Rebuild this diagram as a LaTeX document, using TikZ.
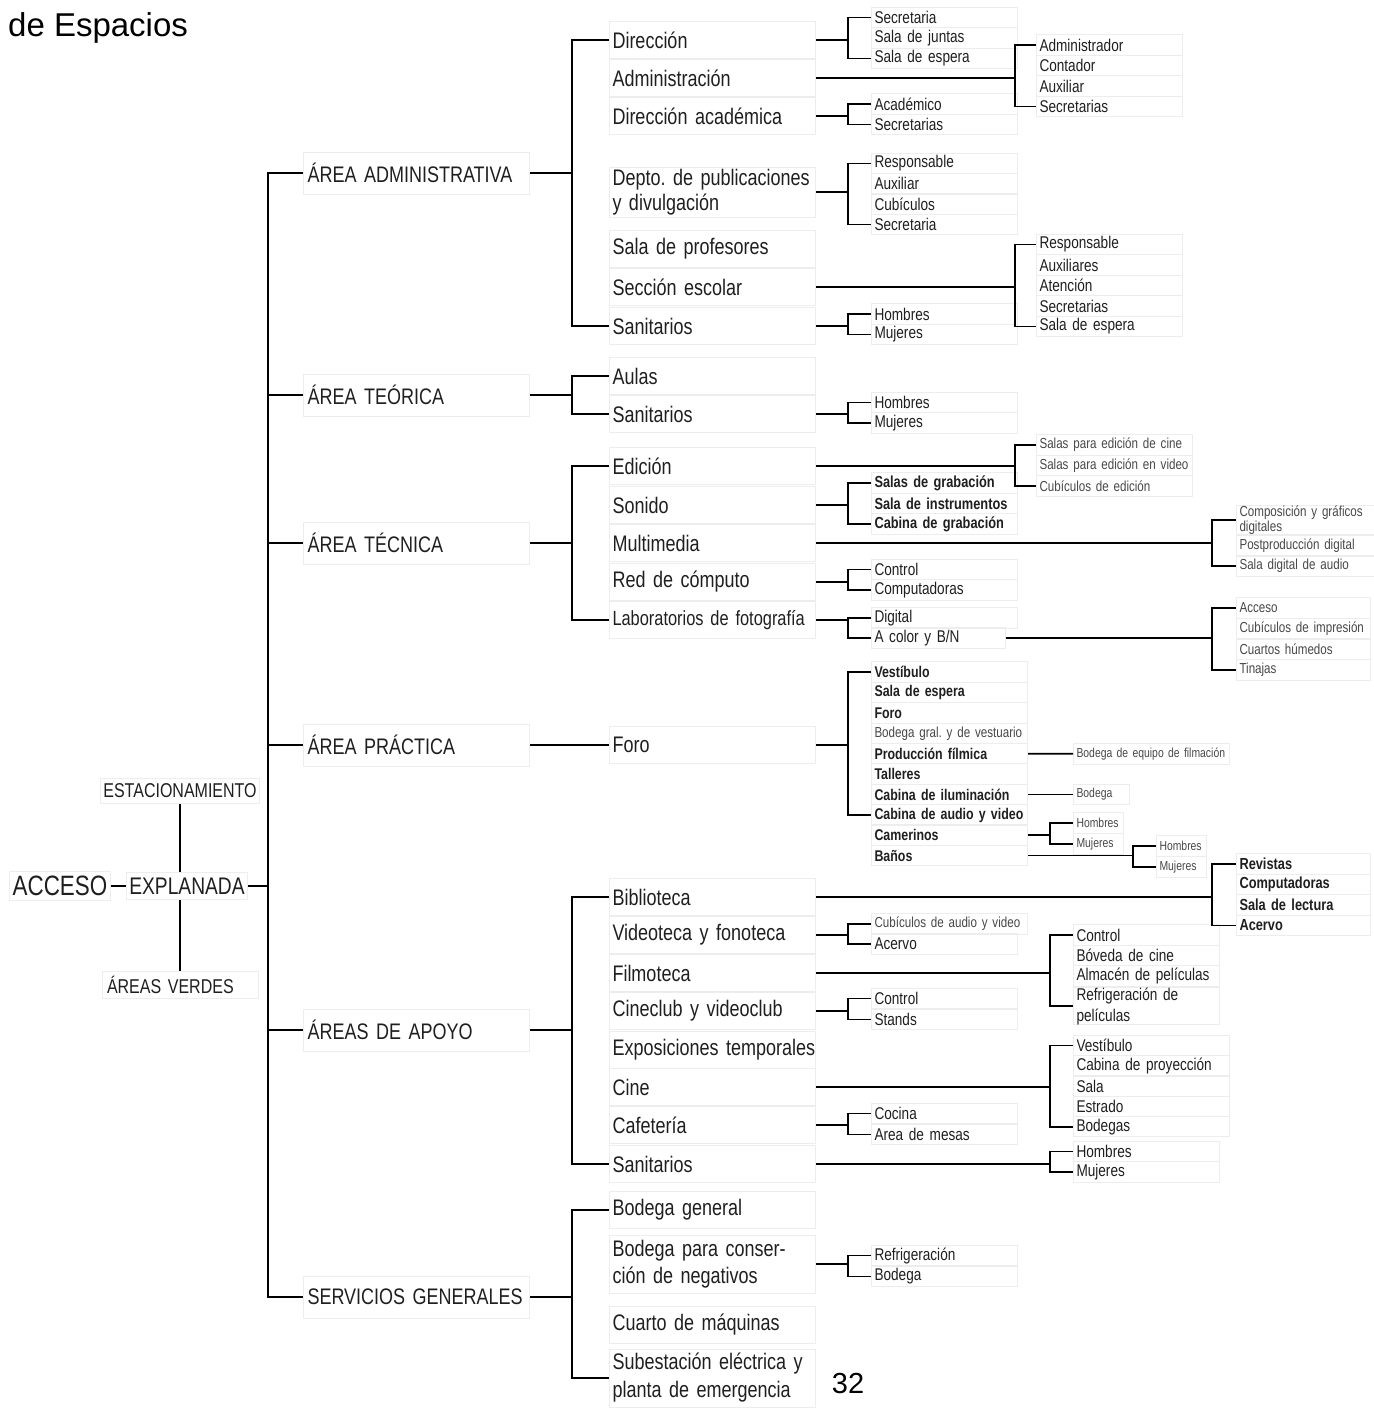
\documentclass[tikz,border=0pt]{standalone}
\usepackage{fontspec}
\setmainfont[FakeStretch=0.8]{Liberation Sans}
\newfontfamily\widefont{Liberation Sans}
\usetikzlibrary{positioning}
\frenchspacing

% bracket from a parent to the first and last entry of a list
\newcommand{\joinlist}[4]{%
  \draw[link] (#1.east) -- (#1.east -| #2);
  \draw[link] (#3.west) -- (#3.west -| #2) -- (#4.west -| #2) -- (#4.west);
}

\tikzset{
  link/.style={line width=1.8pt, black},
  frame/.style={draw=black!7, line width=1pt, text=black!88},
  top/.style={frame, inner xsep=3pt, inner ysep=5pt},
  area/.style={frame, anchor=west, inner xsep=4pt, text width=218pt, minimum height=42pt,
    align=left, font=\fontsize{22.5}{26}\selectfont},
  room/.style={frame, anchor=west, inner xsep=3pt, inner ysep=2pt, text width=200pt,
    minimum height=37pt, align=left, font=\fontsize{22.5}{25}\selectfont},
  item/.style={frame, anchor=west, inner xsep=3pt, inner ysep=0pt, text width=140pt,
    minimum height=20.5pt, align=left, font=\fontsize{17}{19}\selectfont},
  itemb/.style={item, font=\fontsize{16}{19}\selectfont\bfseries},
  iteml/.style={item, text width=150pt, text=black!72, font=\fontsize{14.5}{16}\selectfont},
  itemxs/.style={item, text width=150pt, text=black!72, font=\fontsize{13}{15}\selectfont},
}

\begin{document}
\begin{tikzpicture}[x=1pt, y=-1pt]
\useasboundingbox (0,0) rectangle (1373,1413);

\node[anchor=west, inner sep=0pt, font=\widefont\fontsize{33}{36}\selectfont] (ttl) at (8,28) {de Espacios};
\node[font=\widefont\fontsize{29}{32}\selectfont] (pg) at (848,1383) {32};

% junction columns
\coordinate (xa) at (268,0);
\coordinate (xb) at (572,0);
\coordinate (xc) at (848,0);
\coordinate (xd) at (1015,0);
\coordinate (xe) at (1050,0);
\coordinate (xf) at (1133,0);
\coordinate (xg) at (1212,0);

% left part
\node[top, font=\fontsize{28}{30}\selectfont] (acc) at (60,886) {ACCESO};
\node[top, font=\fontsize{24}{26}\selectfont] (expl) at (187,886) {EXPLANADA};
\node[top, font=\fontsize{20}{22}\selectfont] (esta) at (180,791) {ESTACIONAMIENTO};
\node[top, text width=146pt, align=left, inner xsep=5pt, font=\fontsize{20}{22}\selectfont] (verd) at (180,985) {ÁREAS VERDES};
\draw[link] (acc) -- (expl);
\draw[link] (esta.south) -- (esta.south |- expl.north);
\draw[link] (verd.north) -- (verd.north |- expl.south);

% areas
\node[area] (aadm) at (303,173) {ÁREA ADMINISTRATIVA};
\node[area] (ateo) at (303,395) {ÁREA TEÓRICA};
\node[area] (atec) at (303,543) {ÁREA TÉCNICA};
\node[area] (aprac) at (303,745) {ÁREA PRÁCTICA};
\node[area] (aapo) at (303,1030) {ÁREAS DE APOYO};
\node[area] (aserv) at (303,1297) {SERVICIOS GENERALES};
\joinlist{expl}{xa}{aadm}{aserv}
\foreach \a in {ateo,atec,aprac,aapo}
  \draw[link] (\a.west) -- (\a.west -| xa);

% spaces
\node[room] (dir) at (609,40) {Dirección};
\node[room] (adm) at (609,78) {Administración};
\node[room] (diracad) at (609,116) {Dirección académica};
\node[room, minimum height=50pt] (depto) at (609,192) {\mbox{Depto. de publicaciones}\\y divulgación};
\node[room] (salaprof) at (609,249) {Sala de profesores};
\node[room] (secesc) at (609,287) {Sección escolar};
\node[room] (sanA) at (609,326) {Sanitarios};
\node[room] (aulas) at (609,376) {Aulas};
\node[room] (sanT) at (609,414) {Sanitarios};
\node[room] (edic) at (609,466) {Edición};
\node[room] (sonido) at (609,505) {Sonido};
\node[room] (multi) at (609,543) {Multimedia};
\node[room] (red) at (609,582) {Red de cómputo};
\node[room, font=\fontsize{20.5}{24}\selectfont] (labfoto) at (609,620) {\mbox{Laboratorios de fotografía}};
\node[room] (foro) at (609,745) {Foro};
\node[room] (biblio) at (609,897) {Biblioteca};
\node[room] (video) at (609,935) {Videoteca y fonoteca};
\node[room] (filmo) at (609,973) {Filmoteca};
\node[room] (cineclub) at (609,1011) {Cineclub y videoclub};
\node[room] (expo) at (609,1050) {\mbox{Exposiciones temporales}};
\node[room] (cine) at (609,1087) {Cine};
\node[room] (cafe) at (609,1125) {Cafetería};
\node[room] (sanP) at (609,1164) {Sanitarios};
\node[room] (bodgen) at (609,1210) {Bodega general};
\node[room, minimum height=58pt, font=\fontsize{22.5}{27.5}\selectfont] (bodneg) at (609,1264) {Bodega para conser-\\ción de negativos};
\node[room] (cuarto) at (609,1325) {Cuarto de máquinas};
\node[room, minimum height=58pt, font=\fontsize{22.5}{28}\selectfont] (subest) at (609,1378) {\mbox{Subestación eléctrica y}\\planta de emergencia};

\joinlist{aadm}{xb}{dir}{sanA}
\joinlist{ateo}{xb}{aulas}{sanT}
\joinlist{atec}{xb}{edic}{labfoto}
\draw[link] (aprac) -- (foro);
\joinlist{aapo}{xb}{biblio}{sanP}
\joinlist{aserv}{xb}{bodgen}{subest}

% administrative lists
\foreach \t [count=\i] in {Secretaria,Sala de juntas,Sala de espera}
  \node[item] (d\i) at (871,{17.5+20.5*(\i-1)}) {\t};
\foreach \t [count=\i] in {Administrador,Contador,Auxiliar,Secretarias}
  \node[item] (a\i) at (1036,{45+20.5*(\i-1)}) {\t};
\foreach \t [count=\i] in {Académico,Secretarias}
  \node[item] (da\i) at (871,{104+20.5*(\i-1)}) {\t};
\foreach \t [count=\i] in {Responsable,Auxiliar,Cubículos,Secretaria}
  \node[item] (dp\i) at (871,{163.5+20.3*(\i-1)}) {\t};
\foreach \t [count=\i] in {Responsable,Auxiliares,Atención,Secretarias,Sala de espera}
  \node[item] (se\i) at (1036,{244.5+20.5*(\i-1)}) {\t};
\foreach \t [count=\i] in {Hombres,Mujeres}
  \node[item] (sa\i) at (871,{314+20.5*(\i-1)}) {\t};
\joinlist{dir}{xc}{d1}{d3}
\joinlist{adm}{xd}{a1}{a4}
\joinlist{diracad}{xc}{da1}{da2}
\joinlist{depto}{xc}{dp1}{dp4}
\joinlist{secesc}{xd}{se1}{se5}
\joinlist{sanA}{xc}{sa1}{sa2}

% theory
\foreach \t [count=\i] in {Hombres,Mujeres}
  \node[item] (st\i) at (871,{402.5+20.5*(\i-1)}) {\t};
\joinlist{sanT}{xc}{st1}{st2}

% technical
\foreach \t [count=\i] in {Salas~para~edición~de~cine,Salas~para~edición~en~video,Cubículos~de~edición}
  \node[iteml] (ed\i) at (1036,{445+20.5*(\i-1)}) {\t};
\foreach \t [count=\i] in {Salas de grabación,Sala~de~instrumentos,Cabina de grabación}
  \node[itemb] (so\i) at (871,{483+20.5*(\i-1)}) {\t};
\node[iteml, font=\fontsize{14.5}{12.5}\selectfont] (mm1) at (1236,520) {Composición~y~gráficos\\digitales};
\node[iteml] (mm2) at (1236,546) {Postproducción~digital};
\node[iteml] (mm3) at (1236,566) {Sala~digital~de~audio};
\foreach \t [count=\i] in {Control,Computadoras}
  \node[item] (rc\i) at (871,{569.5+20.5*(\i-1)}) {\t};
\node[item] (lf1) at (871,618) {Digital};
\node[item, text width=128pt] (lf2) at (871,638) {A color y B/N};
\foreach \t [count=\i] in {Acceso,Cubículos~de~impresión,Cuartos~húmedos,Tinajas}
  \node[iteml, text width=128pt] (lb\i) at (1236,{608+20.7*(\i-1)}) {\t};
\joinlist{edic}{xd}{ed1}{ed3}
\joinlist{sonido}{xc}{so1}{so3}
\joinlist{multi}{xg}{mm1}{mm3}
\joinlist{red}{xc}{rc1}{rc2}
\joinlist{labfoto}{xc}{lf1}{lf2}
\joinlist{lf2}{xg}{lb1}{lb4}

% practice
\tikzset{foroitem/.style={itemb, text width=150pt, font=\fontsize{15.5}{19}\selectfont\bfseries}}
\node[foroitem] (fo1) at (871,672) {Vestíbulo};
\node[foroitem] (fo2) at (871,692.5) {Sala de espera};
\node[foroitem] (fo3) at (871,713) {Foro};
\node[iteml, text width=150pt] (fo4) at (871,733.5) {Bodega~gral.~y~de~vestuario};
\node[foroitem] (fo5) at (871,753.5) {Producción fílmica};
\node[foroitem] (fo6) at (871,774) {Talleres};
\node[foroitem] (fo7) at (871,794.5) {Cabina~de~iluminación};
\node[foroitem] (fo8) at (871,815) {Cabina~de~audio~y~video};
\node[foroitem] (fo9) at (871,835) {Camerinos};
\node[foroitem] (fo10) at (871,855.5) {Baños};
\node[itemxs] (pf1) at (1073,754) {Bodega~de~equipo~de~filmación};
\node[itemxs, text width=50pt] (ci1) at (1073,794.5) {Bodega};
\foreach \t [count=\i] in {Hombres,Mujeres}
  \node[itemxs, text width=44pt] (cm\i) at (1073,{823+21*(\i-1)}) {\t};
\foreach \t [count=\i] in {Hombres,Mujeres}
  \node[itemxs, text width=44pt] (bn\i) at (1156,{846+21*(\i-1)}) {\t};
\joinlist{foro}{xc}{fo1}{fo8}
\draw[link] (fo5) -- (pf1);
\draw[link] (fo7) -- (ci1);
\joinlist{fo9}{xe}{cm1}{cm2}
\joinlist{fo10}{xf}{bn1}{bn2}

% support
\foreach \t [count=\i] in {Revistas,Computadoras,Sala de lectura,Acervo}
  \node[itemb, text width=128pt] (bi\i) at (1236,{864+20.5*(\i-1)}) {\t};
\node[iteml] (vf1) at (871,924) {Cubículos~de~audio~y~video};
\node[item] (vf2) at (871,944) {Acervo};
\foreach \t [count=\i] in {Control,Bóveda de cine,Almacén~de~películas}
  \node[item] (fm\i) at (1073,{935+20.5*(\i-1)}) {\t};
\node[item, font=\fontsize{17}{21}\selectfont] (fm4) at (1073,1006) {Refrigeración de\\películas};
\foreach \t [count=\i] in {Control,Stands}
  \node[item] (cc\i) at (871,{998.5+21*(\i-1)}) {\t};
\foreach \t [count=\i] in {Vestíbulo,Cabina~de~proyección,Sala,Estrado,Bodegas}
  \node[item, text width=150pt] (cn\i) at (1073,{1045.5+20.3*(\i-1)}) {\t};
\foreach \t [count=\i] in {Cocina,Area de mesas}
  \node[item] (cf\i) at (871,{1113.5+21*(\i-1)}) {\t};
\foreach \t [count=\i] in {Hombres,Mujeres}
  \node[item] (sp\i) at (1073,{1151.5+20.5*(\i-1)}) {\t};
\joinlist{biblio}{xg}{bi1}{bi4}
\joinlist{video}{xc}{vf1}{vf2}
\joinlist{filmo}{xe}{fm1}{fm4}
\joinlist{cineclub}{xc}{cc1}{cc2}
\joinlist{cine}{xe}{cn1}{cn5}
\joinlist{cafe}{xc}{cf1}{cf2}
\joinlist{sanP}{xe}{sp1}{sp2}

% general services
\foreach \t [count=\i] in {Refrigeración,Bodega}
  \node[item] (bc\i) at (871,{1255.5+21*(\i-1)}) {\t};
\joinlist{bodneg}{xc}{bc1}{bc2}
\end{tikzpicture}
\end{document}
